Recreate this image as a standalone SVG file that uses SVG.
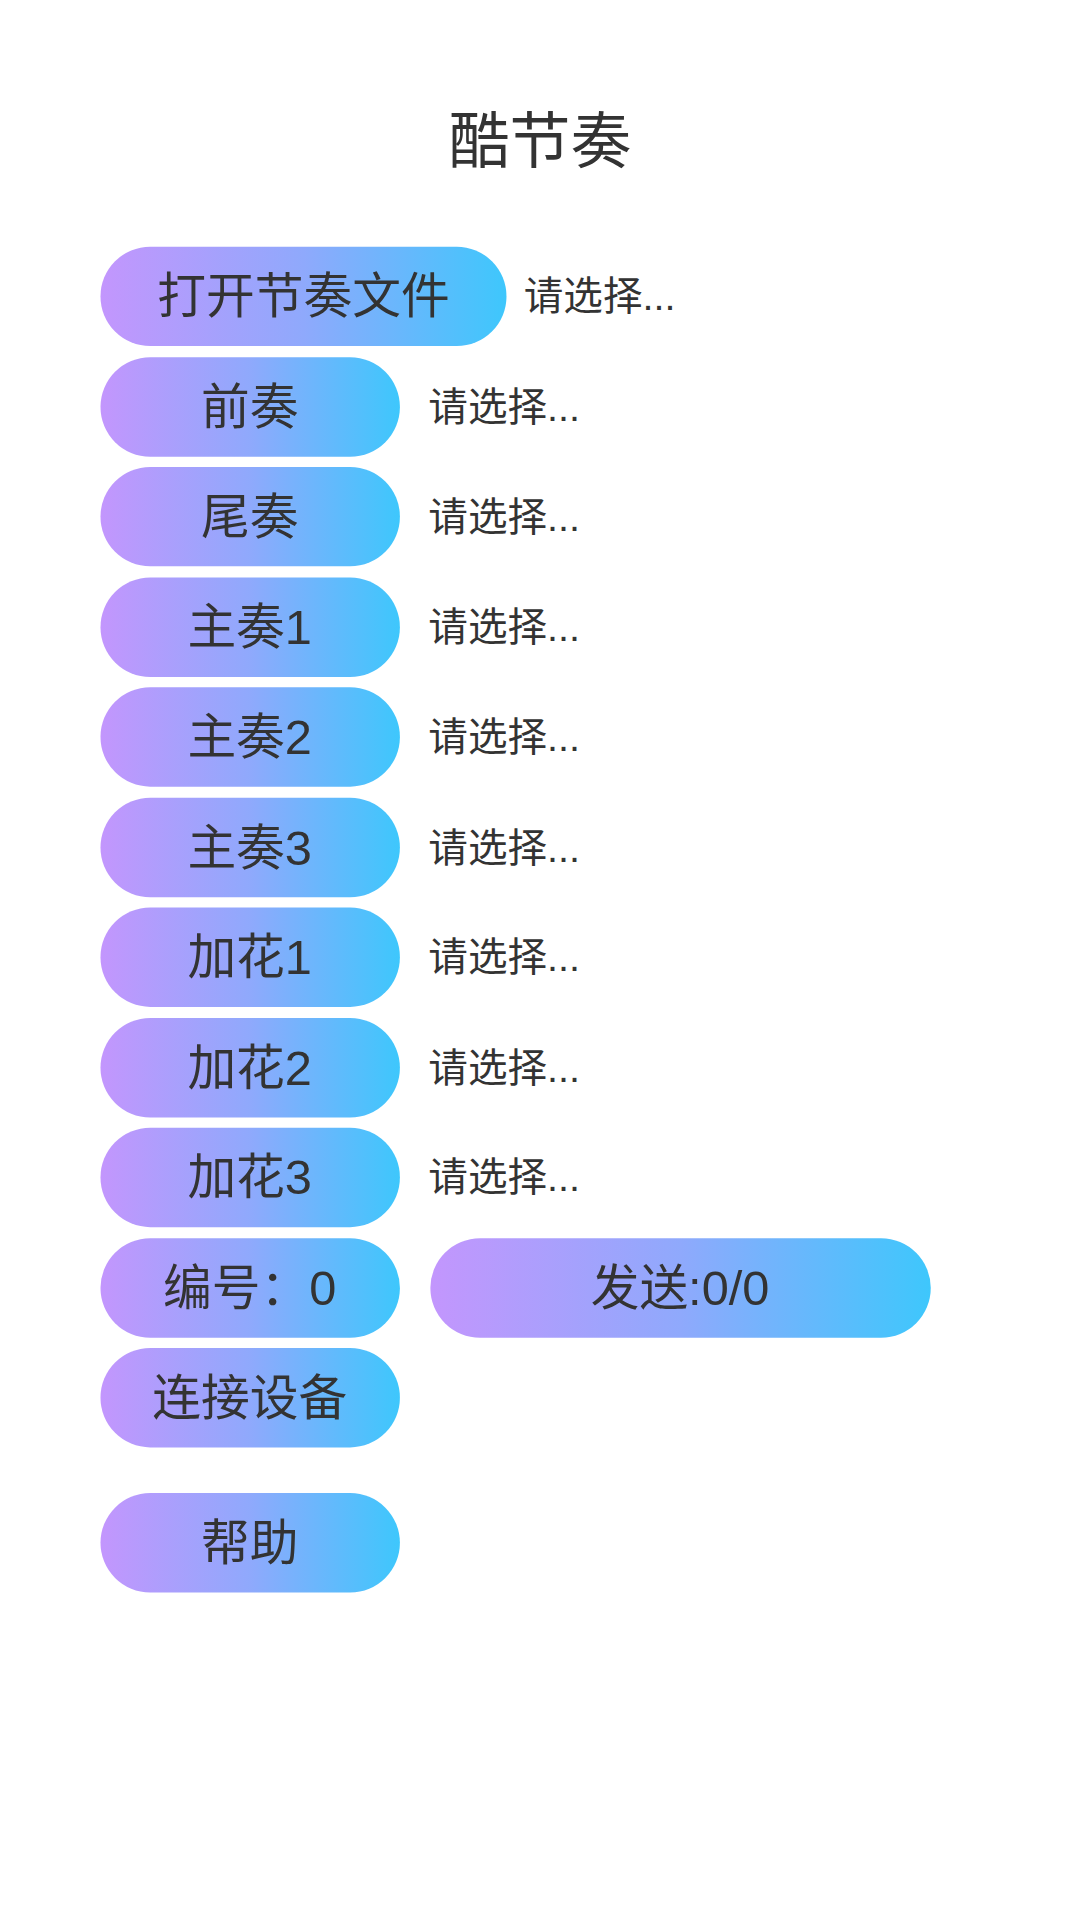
<svg xmlns="http://www.w3.org/2000/svg" width="1080" height="1920" viewBox="0 0 1080 1920">
<defs>
<linearGradient id="g" x1="0" y1="0" x2="1" y2="0">
<stop offset="0" stop-color="#c396fd"/><stop offset="0.5" stop-color="#8fa9fc"/><stop offset="1" stop-color="#3ec7fc"/>
</linearGradient>
</defs>
<style>
.b{fill:url(#g)}
.t{font-family:"Liberation Sans","Noto Sans CJK SC",sans-serif;fill:#333;text-anchor:middle;dominant-baseline:central;font-size:48px}
.l{font-family:"Liberation Sans","Noto Sans CJK SC",sans-serif;fill:#333;dominant-baseline:central;font-size:39px}
</style>
<rect width="1080" height="1920" fill="#fff"/>
<g transform="scale(1.015)">
<text class="t" x="532" y="140" style="font-size:60px">酷节奏</text>
<g id="open"><rect class="b" x="99" y="243" width="400" height="98" rx="49"/><text class="t" x="299" y="292">打开节奏文件</text><text class="l" x="516" y="292">请选择...</text></g>
<g id="intro"><rect class="b" x="99" y="352" width="295" height="98" rx="49"/><text class="t" x="246" y="401">前奏</text><text class="l" x="422" y="401">请选择...</text></g>
<g id="outro"><rect class="b" x="99" y="460" width="295" height="98" rx="49"/><text class="t" x="246" y="509">尾奏</text><text class="l" x="422" y="509">请选择...</text></g>
<g id="main1"><rect class="b" x="99" y="569" width="295" height="98" rx="49"/><text class="t" x="246" y="618">主奏1</text><text class="l" x="422" y="618">请选择...</text></g>
<g id="main2"><rect class="b" x="99" y="677" width="295" height="98" rx="49"/><text class="t" x="246" y="726">主奏2</text><text class="l" x="422" y="726">请选择...</text></g>
<g id="main3"><rect class="b" x="99" y="786" width="295" height="98" rx="49"/><text class="t" x="246" y="835">主奏3</text><text class="l" x="422" y="835">请选择...</text></g>
<g id="fill1"><rect class="b" x="99" y="894" width="295" height="98" rx="49"/><text class="t" x="246" y="943">加花1</text><text class="l" x="422" y="943">请选择...</text></g>
<g id="fill2"><rect class="b" x="99" y="1003" width="295" height="98" rx="49"/><text class="t" x="246" y="1052">加花2</text><text class="l" x="422" y="1052">请选择...</text></g>
<g id="fill3"><rect class="b" x="99" y="1111" width="295" height="98" rx="49"/><text class="t" x="246" y="1160">加花3</text><text class="l" x="422" y="1160">请选择...</text></g>
<g id="num"><rect class="b" x="99" y="1220" width="295" height="98" rx="49"/><text class="t" x="246" y="1269">编号：0</text></g>
<g id="send"><rect class="b" x="424" y="1220" width="493" height="98" rx="49"/><text class="t" x="670" y="1269">发送:0/0</text></g>
<g id="connect"><rect class="b" x="99" y="1328" width="295" height="98" rx="49"/><text class="t" x="246" y="1377">连接设备</text></g>
<g id="help"><rect class="b" x="99" y="1471" width="295" height="98" rx="49"/><text class="t" x="246" y="1520">帮助</text></g>
<g id="connectors"/>
</g>
</svg>
